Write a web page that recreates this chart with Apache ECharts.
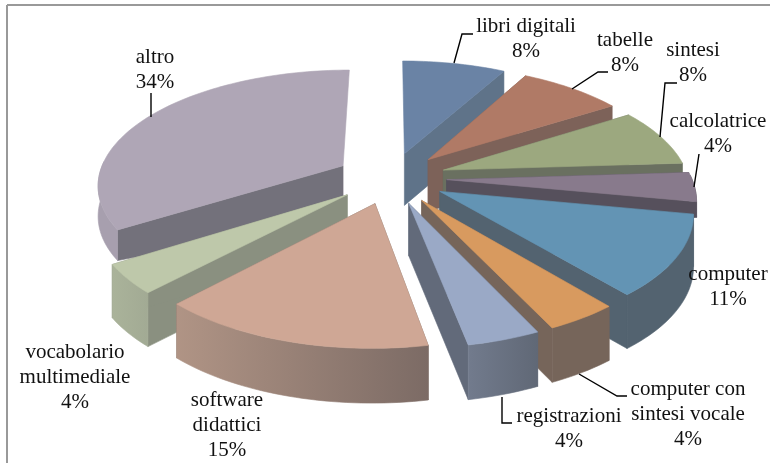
<!DOCTYPE html>
<html>
<head>
<meta charset="utf-8">
<style>html,body{margin:0;padding:0;background:#fff}#c{width:770px;height:463px}#c canvas{filter:blur(.5px)}</style>
<script src="https://cdn.jsdelivr.net/npm/echarts@6/dist/echarts.min.js"></script>
</head>
<body>
<div id="c"></div>
<script>
const categories = ['libri digitali','tabelle','sintesi','calcolatrice','computer','computer con sintesi vocale','registrazioni','software didattici','vocabolario multimediale','altro'];
const values = [8,8,8,4,11,4,4,15,4,34];
const topColors = ['#6a83a5','#b07a66','#9ca87f','#887a8c','#6394b4','#d89a5f','#9aa9c6','#cfa795','#bec8aa','#afa6b6'];
const wallColors = ['#5f7389','#7d6259','#6a7060','#56505c','#536370','#76655a','#626a7a','#7c6b65','#8a9080','#73717b'];
const rimFrom = ['#5f7389','#7d6259','#6a7060','#56505c','#536370','#76655a','#727b8d','#b09485','#aab39a','#a79fae'];
const rimTo = ['#5f7389','#7d6259','#6a7060','#56505c','#536370','#76655a','#606876','#7c6b65','#a2aa94','#a79fae'];
const rimDrop = [1,1,1,0.3,1,1,1,1,1,0.58];
const labelLines = [
  ['libri digitali','8%'],['tabelle','8%'],['sintesi','8%'],['calcolatrice','4%'],['computer','11%'],
  ['computer con','sintesi vocale','4%'],['registrazioni','4%'],['software','didattici','15%'],
  ['vocabolario','multimediale','4%'],['altro','34%']
];
const labelAnchors = [[526,39],[625,53],[693,63],[718,134],[728,287],[688,414],[569,429],[227,425],[75,377],[155,70]];
const leaders = [
  [[454,63],[462,34],[473,34]],[[572,89],[598,72],[608,72]],[[660,137],[665,83],[677,83]],
  [[694,187],[699,154]],[],[[579,374],[617,396],[627,396]],[[502,397],[502,423],[512,423]],[],[],[[151,117],[151,93]]
];

// Simple perspective projection of the exploded pie
const CX = 391, CY = 178, SX = 245, SY = 113.8, PERSP = 0.153, EXPLODE = 0.227;
function project(u, v, drop) {
  const w = 1 - PERSP * v;
  const h = (40 + 12 / w) * drop;
  return [CX + SX * u / w, CY + SY * v / w + h];
}
const total = values.reduce((a, b) => a + b, 0);
let running = 0;
const slices = values.map((val, i) => {
  const a0 = running / total * Math.PI * 2;
  running += val;
  const a1 = running / total * Math.PI * 2;
  const mid = (a0 + a1) / 2;
  return { i, val, a0, a1, ex: EXPLODE * Math.sin(mid), ey: -EXPLODE * Math.cos(mid), depth: -Math.cos(mid) };
});
const drawOrder = slices.slice().sort((p, q) => p.depth - q.depth);

function renderItem(params) {
  const s = drawOrder[params.dataIndex];
  const n = Math.max(6, Math.round((s.a1 - s.a0) * 40));
  const arc = [], arcLow = [], rimTop = [], rimLow = [];
  for (let k = 0; k <= n; k++) {
    const a = s.a0 + (s.a1 - s.a0) * k / n;
    const u = s.ex + Math.sin(a), v = s.ey - Math.cos(a);
    const top = project(u, v, 0), low = project(u, v, rimDrop[s.i]);
    arc.push(top);
    arcLow.push(low);
    // only the front half of the rim can be seen
    if (Math.cos(a) < 0.05) { rimTop.push(top); rimLow.push(low); }
  }
  const apex = project(s.ex, s.ey, 0), apexLow = project(s.ex, s.ey, 1);
  const poly = (points, fill) => ({
    type: 'polygon', shape: { points },
    style: { fill, stroke: fill, lineWidth: 0.6 }
  });
  const rimFill = new echarts.graphic.LinearGradient(0, 0, 1, 0, [
    { offset: 0, color: rimFrom[s.i] }, { offset: 1, color: rimTo[s.i] }
  ]);
  const children = [];
  // the walls lying exactly on the 12 o'clock cut face away from the viewer
  if (s.a0 > 1e-6) children.push(poly([apex, arc[0], arcLow[0], apexLow], wallColors[s.i]));
  if (s.a1 < Math.PI * 2 - 1e-6) children.push(poly([apex, arc[n], arcLow[n], apexLow], wallColors[s.i]));
  if (rimTop.length > 1) children.push(poly(rimTop.concat(rimLow.slice().reverse()), rimFill));
  children.push(poly([apex].concat(arc), topColors[s.i]));
  return { type: 'group', children };
}

const graphics = [
  { type: 'line', silent: true, shape: { x1: 7, y1: 5, x2: 770, y2: 5 }, style: { stroke: '#999', lineWidth: 2 } },
  { type: 'line', silent: true, shape: { x1: 7, y1: 5, x2: 7, y2: 463 }, style: { stroke: '#999', lineWidth: 2 } }
];
leaders.forEach(pts => {
  if (pts.length) graphics.push({ type: 'polyline', silent: true, z: 10, shape: { points: pts }, style: { stroke: '#000', lineWidth: 1.4, fill: null } });
});
labelLines.forEach((lines, i) => {
  graphics.push({
    type: 'text', silent: true, z: 10, x: labelAnchors[i][0], y: labelAnchors[i][1],
    style: {
      text: lines.join('\n'), fill: '#111', align: 'center', verticalAlign: 'middle',
      font: '21px "Liberation Serif"', lineHeight: 25
    }
  });
});

const chart = echarts.init(document.getElementById('c'), null, { renderer: 'canvas' });
chart.setOption({
  animation: false,
  backgroundColor: '#fff',
  graphic: graphics,
  series: [{
    type: 'custom',
    coordinateSystem: 'none',
    silent: true,
    data: drawOrder.map(s => ({ name: categories[s.i], value: s.val })),
    renderItem
  }]
});
</script>
</body>
</html>
